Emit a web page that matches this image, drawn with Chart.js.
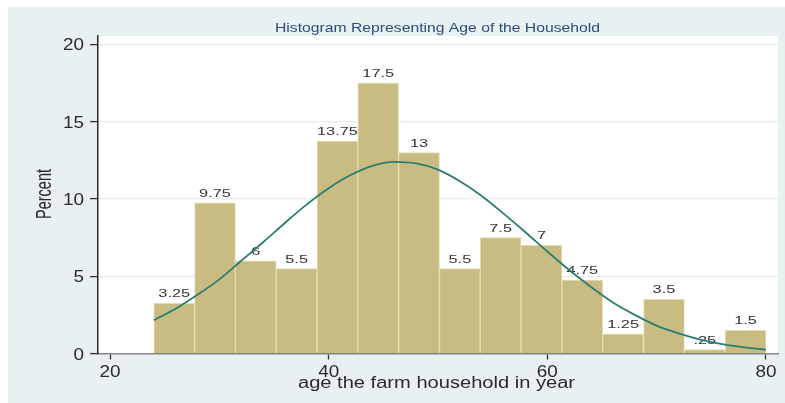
<!DOCTYPE html>
<html>
<head>
<meta charset="utf-8">
<script src="https://cdn.jsdelivr.net/npm/chart.js@4.4.1/dist/chart.umd.min.js"></script>
<style>
  html, body { margin: 0; padding: 0; background: #ffffff; }
  #wrap { width: 785px; height: 403px; position: relative; }
</style>
</head>
<body>
<div id="wrap"><canvas id="c" width="785" height="403"></canvas></div>
<script>
// ---- data ----
const binCenters = [25.87, 29.60, 33.33, 37.07, 40.80, 44.53, 48.27, 52.00, 55.73, 59.47, 63.20, 66.93, 70.67, 74.40, 78.13];
const percents = [3.25, 9.75, 6, 5.5, 13.75, 17.5, 13, 5.5, 7.5, 7, 4.75, 1.25, 3.5, 0.25, 1.5];
const percentLabels = ["3.25", "9.75", "6", "5.5", "13.75", "17.5", "13", "5.5", "7.5", "7", "4.75", "1.25", "3.5", ".25", "1.5"];
const curveAges = [24, 26, 28, 30, 32, 34, 36, 38, 40, 42, 44, 46, 48, 50, 52, 54, 56, 58, 60, 62, 64, 66, 68, 70, 72, 74, 76, 78, 80];
const curvePercents = [2.15, 2.9, 3.8, 4.8, 6.0, 7.2, 8.45, 9.65, 10.7, 11.55, 12.15, 12.4, 12.3, 11.9, 11.15, 10.2, 9.05, 7.85, 6.6, 5.4, 4.3, 3.3, 2.5, 1.8, 1.3, 0.9, 0.6, 0.4, 0.25];
const xTickValues = [20, 40, 60, 80];
const yTickValues = [0, 5, 10, 15, 20];
const titleText = "Histogram Representing Age of the Household";
const xTitleText = "age the farm household in year";
const yTitleText = "Percent";

// ---- helpers ----
function stretchedText(ctx, text, x, y, font, color, align, sx, sy, rot) {
  ctx.save();
  ctx.translate(x, y);
  if (rot) ctx.rotate(rot);
  ctx.scale(sx, sy);
  ctx.font = font;
  ctx.fillStyle = color;
  ctx.textAlign = align;
  ctx.textBaseline = 'alphabetic';
  ctx.fillText(text, 0, 0);
  ctx.restore();
}
function widthFactor(ctx, text, font, target) {
  ctx.save(); ctx.font = font;
  const w = ctx.measureText(text).width;
  ctx.restore();
  return target / w;
}

const FONT = '"Liberation Sans", Arial, Helvetica, sans-serif';

const framePlugin = {
  id: 'frame',
  beforeDraw(chart) {
    const { ctx, chartArea: a } = chart;
    ctx.save();
    ctx.fillStyle = '#ffffff';
    ctx.fillRect(0, 0, chart.width, chart.height);
    ctx.fillStyle = '#e9f0f2';
    ctx.fillRect(8, 7, chart.width - 8, chart.height - 7);
    ctx.fillStyle = '#ffffff';
    ctx.fillRect(a.left, a.top, a.right - a.left, a.bottom - a.top);
    ctx.restore();
  },
  afterDatasetDraw(chart, args) {
    if (args.index !== 1) return;
    const ctx = chart.ctx;
    const meta = chart.getDatasetMeta(1);
    const f = '11.5px ' + FONT;
    meta.data.forEach((bar, i) => {
      stretchedText(ctx, percentLabels[i], bar.x, bar.y - 6, f, '#333333', 'center', 1.42, 1, 0);
    });
  },
  afterDraw(chart) {
    const ctx = chart.ctx;
    const xs = chart.scales.x, ys = chart.scales.y;
    const tf = '16px ' + FONT;
    xTickValues.forEach(v => {
      stretchedText(ctx, String(v), xs.getPixelForValue(v), 377, tf, '#2a2a2a', 'center', 1.18, 1, 0);
    });
    yTickValues.forEach(v => {
      stretchedText(ctx, String(v), 84, ys.getPixelForValue(v) + 6, tf, '#2a2a2a', 'right', 1.18, 1, 0);
    });
    // title
    const titleFont = '12.5px ' + FONT;
    const k1 = widthFactor(ctx, titleText, titleFont, 325);
    stretchedText(ctx, titleText, 275, 31.5, titleFont, '#2b4c7c', 'left', k1, 1, 0);
    // x title
    const xtFont = '16px ' + FONT;
    const k2 = widthFactor(ctx, xTitleText, xtFont, 277);
    stretchedText(ctx, xTitleText, 298, 388, xtFont, '#2a2a2a', 'left', k2, 1, 0);
    // y title (rotated)
    const ytFont = '17px ' + FONT;
    const k3 = widthFactor(ctx, yTitleText, ytFont, 50);
    stretchedText(ctx, yTitleText, 51, 219, ytFont, '#2a2a2a', 'left', k3, 1.3, -Math.PI / 2);
  }
};

new Chart(document.getElementById('c'), {
  type: 'bar',
  data: {
    datasets: [
      {
        type: 'line',
        data: curveAges.map((a, i) => ({ x: a, y: curvePercents[i] })),
        borderColor: '#2b7d72',
        borderWidth: 1.8,
        pointRadius: 0,
        cubicInterpolationMode: 'monotone',
        fill: false,
        order: 0
      },
      {
        type: 'bar',
        data: binCenters.map((a, i) => ({ x: a, y: percents[i] })),
        backgroundColor: '#c9bc82',
        borderColor: '#e5ddb2',
        borderWidth: 1,
        barPercentage: 1,
        categoryPercentage: 1,
        order: 1
      }
    ]
  },
  options: {
    responsive: false,
    animation: false,
    layout: { padding: { left: 8, right: 7, top: 36, bottom: 0 } },
    plugins: { legend: { display: false }, tooltip: { enabled: false }, title: { display: false } },
    scales: {
      x: {
        type: 'linear',
        offset: false,
        min: 18.9,
        max: 81.1,
        afterBuildTicks: s => { s.ticks = xTickValues.map(v => ({ value: v })); },
        afterFit: s => { s.height = 49.5; },
        ticks: { display: false },
        grid: { offset: false, drawOnChartArea: false, drawTicks: true, tickLength: 6, tickColor: '#333333', tickWidth: 1.3 },
        border: { color: '#808488', width: 1.5 }
      },
      y: {
        type: 'linear',
        min: 0,
        max: 20.55,
        afterBuildTicks: s => { s.ticks = yTickValues.map(v => ({ value: v })); },
        afterFit: s => { s.width = 90; },
        ticks: { display: false },
        grid: {
          drawTicks: true,
          tickLength: 8,
          tickColor: '#333333',
          tickWidth: 1.3,
          color: c => (c.tick && c.tick.value === 0) ? 'rgba(0,0,0,0)' : '#e3edf0',
          lineWidth: 1.2
        },
        border: { color: '#2a2a2a', width: 1.5 }
      }
    }
  },
  plugins: [framePlugin]
});
</script>
</body>
</html>
